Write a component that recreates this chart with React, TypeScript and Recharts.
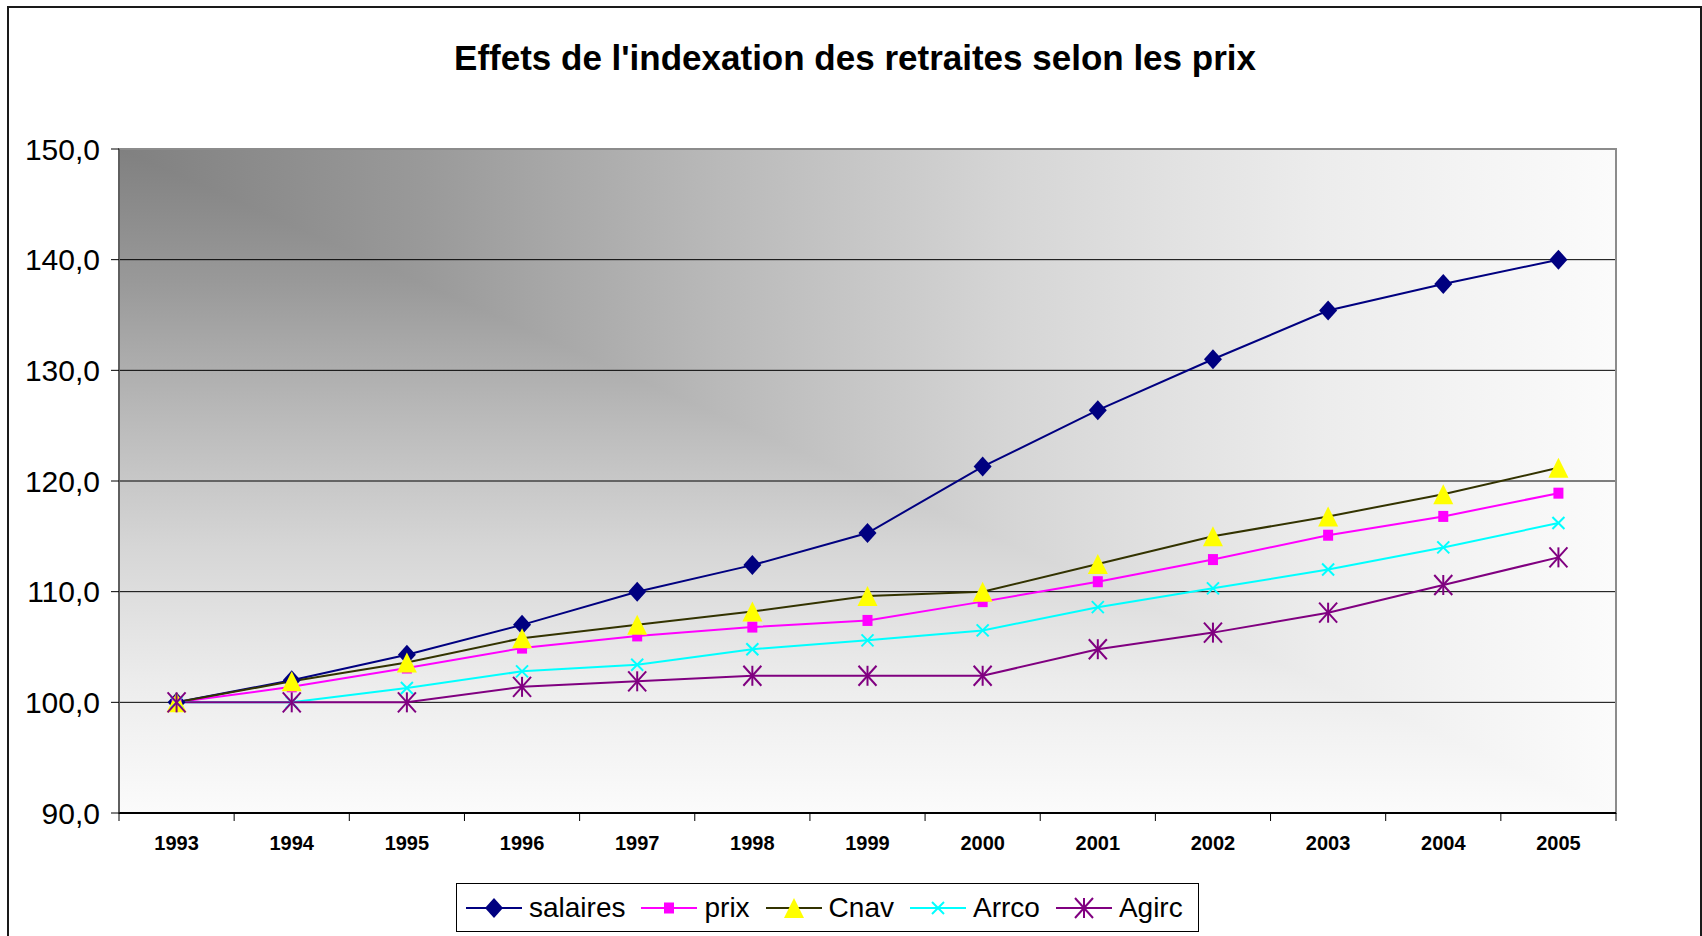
import React from 'react';
import {
  LineChart, Line, XAxis, YAxis, CartesianGrid, ReferenceArea,
} from 'recharts';

const years = ['1993', '1994', '1995', '1996', '1997', '1998', '1999', '2000', '2001', '2002', '2003', '2004', '2005'];
const salaires = [100, 102.0, 104.3, 107.0, 110.0, 112.4, 115.3, 121.3, 126.4, 131.0, 135.4, 137.8, 140.0];
const prix = [100, 101.4, 103.1, 104.9, 106.0, 106.8, 107.4, 109.1, 110.9, 112.9, 115.1, 116.8, 118.9];
const cnav = [100, 101.9, 103.6, 105.8, 107.0, 108.2, 109.6, 110.0, 112.5, 115.0, 116.8, 118.8, 121.2];
const arrco = [100, 100.0, 101.3, 102.8, 103.4, 104.8, 105.6, 106.5, 108.6, 110.3, 112.0, 114.0, 116.2];
const agirc = [100, 100, 100, 101.4, 101.9, 102.4, 102.4, 102.4, 104.8, 106.3, 108.1, 110.6, 113.1];
const yTicks = [90, 100, 110, 120, 130, 140, 150];

const data = years.map((year, i) => ({
  year,
  salaires: salaires[i],
  prix: prix[i],
  Cnav: cnav[i],
  Arrco: arrco[i],
  Agirc: agirc[i],
}));

const FONT = '"Liberation Sans", Arial, sans-serif';
const W = 1702;
const H = 936;
const PLOT_LEFT = 119;
const PLOT_RIGHT = 1616;
const BAND = (PLOT_RIGHT - PLOT_LEFT) / years.length;
const TICK = 8;
const X_MARGIN = 15;

// grey ramp of the "from corner" background
const bgStops = [
  ['0%', '#808080'], ['20%', '#999999'], ['40%', '#b9b9b9'],
  ['60%', '#d6d6d6'], ['80%', '#ececec'], ['100%', '#fbfbfb'],
];

// marker shapes (shared by the lines and the legend)
const diamond = (cx: number, cy: number, key?: string) => (
  <polygon key={key} points={`${cx},${cy - 10} ${cx + 9},${cy} ${cx},${cy + 10} ${cx - 9},${cy}`} fill="#000080" />
);
const square = (cx: number, cy: number, key?: string) => (
  <rect key={key} x={cx - 5} y={cy - 5.5} width={10} height={11} fill="#FF00FF" />
);
const triangle = (cx: number, cy: number, key?: string) => (
  <polygon key={key} points={`${cx},${cy - 10} ${cx + 10},${cy + 10} ${cx - 10},${cy + 10}`} fill="#FFFF00" />
);
const cross = (cx: number, cy: number, key?: string) => (
  <g key={key} stroke="#00FFFF" strokeWidth={2}>
    <line x1={cx - 6} y1={cy - 6} x2={cx + 6} y2={cy + 6} />
    <line x1={cx - 6} y1={cy + 6} x2={cx + 6} y2={cy - 6} />
  </g>
);
const star = (cx: number, cy: number, key?: string) => (
  <g key={key} stroke="#800080" strokeWidth={2}>
    <line x1={cx - 9} y1={cy - 10} x2={cx + 9} y2={cy + 10} />
    <line x1={cx - 9} y1={cy + 10} x2={cx + 9} y2={cy - 10} />
    <line x1={cx} y1={cy - 10} x2={cx} y2={cy + 10} />
  </g>
);

const series = [
  { key: 'salaires', color: '#000080', shape: diamond },
  { key: 'prix', color: '#FF00FF', shape: square },
  { key: 'Cnav', color: '#333300', shape: triangle },
  { key: 'Arrco', color: '#00FFFF', shape: cross },
  { key: 'Agirc', color: '#800080', shape: star },
];

const XTick = (props: any) => {
  const { x, y, payload, index } = props;
  const axisY = y - TICK - X_MARGIN;
  return (
    <g>
      <line x1={x - BAND / 2} y1={axisY} x2={x - BAND / 2} y2={axisY + TICK} stroke="#000" strokeWidth={1} />
      {index === years.length - 1 && (
        <line x1={x + BAND / 2} y1={axisY} x2={x + BAND / 2} y2={axisY + TICK} stroke="#000" strokeWidth={1} />
      )}
      <text x={x} y={y} dy="0.71em" textAnchor="middle" fontFamily={FONT} fontSize={20} fontWeight="bold" fill="#000">
        {payload.value}
      </text>
    </g>
  );
};

const fmt = (v: number) => v.toFixed(1).replace('.', ',');

export default function App() {
  return (
    <div style={{ position: 'absolute', left: 0, top: 0, width: W, height: H, background: '#fff', overflow: 'hidden' }}>
      <div style={{ position: 'absolute', left: 7, top: 6, width: 1691, height: 960, border: '2px solid #1a1a1a' }} />
      <div
        style={{
          position: 'absolute', left: 0, top: 37, width: 1710, textAlign: 'center',
          fontFamily: FONT, fontWeight: 'bold', fontSize: 35, lineHeight: '42px', color: '#000',
        }}
      >
        Effets de l'indexation des retraites selon les prix
      </div>
      <div style={{ position: 'absolute', left: 0, top: 0 }}>
        <LineChart width={W} height={H} data={data} margin={{ top: 149, right: W - PLOT_RIGHT, left: 0, bottom: 63 }}>
          <defs>
            <linearGradient id="bgH" x1="0" y1="0" x2="1" y2="0">
              {bgStops.map(([o, c]) => <stop key={o} offset={o} stopColor={c} />)}
            </linearGradient>
            <linearGradient id="bgV" x1="0" y1="0" x2="0" y2="1">
              {bgStops.map(([o, c]) => <stop key={o} offset={o} stopColor={c} />)}
            </linearGradient>
            <pattern id="plotBg" patternUnits="objectBoundingBox" patternContentUnits="objectBoundingBox" x="0" y="0" width="1" height="1">
              <rect x="0" y="0" width="1" height="1" fill="url(#bgH)" />
              <polygon points="0,0 0,1 1,1" fill="url(#bgV)" />
            </pattern>
          </defs>
          <CartesianGrid vertical={false} stroke="#000" strokeWidth={1} fill="url(#plotBg)" fillOpacity={1} />
          <ReferenceArea y1={90} y2={150} fill="none" stroke="#8c8c8c" strokeWidth={2} ifOverflow="visible" />
          <XAxis
            dataKey="year"
            type="category"
            scale="band"
            height={60}
            tickLine={false}
            tickSize={TICK}
            tickMargin={X_MARGIN}
            axisLine={{ stroke: '#000', strokeWidth: 2 }}
            tick={<XTick />}
            interval={0}
          />
          <YAxis
            type="number"
            domain={[90, 150]}
            ticks={yTicks}
            width={PLOT_LEFT}
            tickSize={TICK}
            tickMargin={11}
            tickFormatter={fmt}
            axisLine={{ stroke: '#333' }}
            tickLine={{ stroke: '#000' }}
            tick={{ fill: '#000', fontFamily: FONT, fontSize: 30 }}
            interval={0}
          />
          {series.map((s) => (
            <Line
              key={s.key}
              type="linear"
              dataKey={s.key}
              stroke={s.color}
              strokeWidth={2}
              isAnimationActive={false}
              dot={(p: any) => s.shape(p.cx, p.cy, `${s.key}-${p.index}`)}
              activeDot={false}
            />
          ))}
        </LineChart>
      </div>
      <div
        style={{
          position: 'absolute', left: 456, top: 883, width: 743, height: 49,
          border: '1px solid #000', background: '#fff', display: 'flex', alignItems: 'center',
          paddingLeft: 9, boxSizing: 'border-box', fontFamily: FONT, fontSize: 28, color: '#000',
        }}
      >
        {series.map((s) => (
          <div key={s.key} style={{ display: 'flex', alignItems: 'center', marginRight: 16 }}>
            <svg width={56} height={26} style={{ display: 'block' }}>
              <line x1={0} y1={13} x2={56} y2={13} stroke={s.color} strokeWidth={2} />
              {s.shape(28, 13)}
            </svg>
            <span style={{ marginLeft: 7, lineHeight: '30px' }}>{s.key}</span>
          </div>
        ))}
      </div>
    </div>
  );
}
